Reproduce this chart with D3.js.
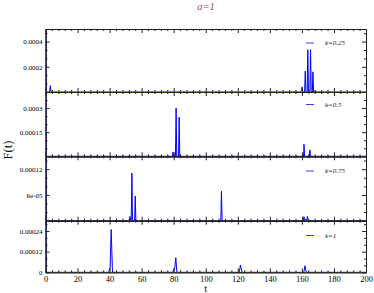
<!DOCTYPE html>
<html><head><meta charset="utf-8">
<script src="https://cdn.jsdelivr.net/npm/d3@7"></script>
<style>body{margin:0;background:#fff}svg{display:block}</style>
</head><body>
<script>
// ---- data ----
const seriesNames = ["k=0.25", "k=0.5", "k=0.75", "k=1"];
const t_k025 = [0, 0.6, 2.5, 3, 3.5, 159.2, 159.7, 160.1, 160.6, 161.1, 161.7, 162.1, 162.5, 163.3, 163.7, 164.1, 165.0, 165.4, 165.8, 166.5, 166.9, 167.3, 168.1, 168.5, 168.9, 200];
const F_k025 = [0.002, 0, 0, 0.00005, 0, 0, 0.00001, 0.00004, 0, 0, 0, 0.000166, 0, 0, 0.000336, 0, 0, 0.000336, 0, 0, 0.00016, 0, 0, 0.00001, 0, 0];
const t_k05 = [0, 0.6, 79.2, 79.6, 80.0, 81.1, 81.5, 81.9, 83.0, 83.4, 83.8, 160.5, 160.9, 161.1, 161.3, 161.7, 164.6, 165.0, 165.4, 200];
const F_k05 = [0.002, 0, 0, 0.000027, 0, 0, 0.0003, 0, 0, 0.000243, 0, 0, 0.00001, 0, 0.000075, 0, 0, 0.00004, 0, 0];
const t_k075 = [0, 0.6, 52.3, 52.7, 53.2, 53.5, 53.9, 54.3, 55.6, 56.0, 56.4, 109.4, 109.8, 110.2, 160.9, 161.3, 161.7, 162.2, 163.0, 163.4, 163.8, 200];
const F_k075 = [0.002, 0, 0, 0.00001, 0, 0, 0.000111, 0, 0, 0.0000577, 0, 0, 0.0000686, 0, 0, 0.0000093, 0, 0.000003, 0, 0.00001, 0, 0];
const t_k1 = [0, 0.6, 39.5, 40.0, 40.3, 41.0, 41.8, 79.5, 80.0, 80.6, 81.3, 82.0, 120.8, 121.3, 121.6, 122.2, 122.6, 161.2, 161.6, 161.9, 162.5, 163.0, 200];
const F_k1 = [0.002, 0, 0, 0.00002, 0.00002, 0.000249, 0, 0, 0.00002, 0.00002, 0.000085, 0, 0, 0.00002, 0.000042, 0.00002, 0, 0, 0.00002, 0.000038, 0.00001, 0, 0];
const seriesT = [t_k025, t_k05, t_k075, t_k1];
const seriesF = [F_k025, F_k05, F_k075, F_k1];
const yMax = [0.0005, 0.0004, 0.00015, 0.0003];
const yTickValues = [[0.0002, 0.0004], [0.00015, 0.0003], [0.00006, 0.00012], [0, 0.00012, 0.00024]];
const yTickLabels = [["0.0002", "0.0004"], ["0.00015", "0.0003"], ["6e-05", "0.00012"], ["0", "0.00012", "0.00024"]];
const yMinorStep = [0.0002 / 3, 0.00005, 0.00002, 0.00004];
const xTickValues = [0, 20, 40, 60, 80, 100, 120, 140, 160, 180, 200];
const xTickLabels = ["0", "20", "40", "60", "80", "100", "120", "140", "160", "180", "200"];

// ---- layout ----
const W = 374, H = 293;
const panelTop = [29, 92, 156.3, 220.7];
const panelBot = [92, 156.3, 220.7, 272.3];
const legendY = [43, 104.5, 171, 235.5];
const serif = "'Liberation Serif','Times New Roman',serif";

const svg = d3.select("body").append("svg").attr("width", W).attr("height", H);
const x = d3.scaleLinear().domain([0, 200]).range([45.5, 366]);
const xMinor = d3.range(0, 201, 4).filter(v => v % 20 !== 0);

svg.append("text").attr("x", 206).attr("y", 10).attr("text-anchor", "middle")
  .attr("font-family", serif).attr("font-style", "italic").attr("font-size", 10.5)
  .attr("fill", "#8e3f85").text("a=1");

seriesNames.forEach((name, i) => {
  const y = d3.scaleLinear().domain([0, yMax[i]]).range([panelBot[i], panelTop[i]]);
  const g = svg.append("g");
  const clipId = "clip" + i;
  svg.append("clipPath").attr("id", clipId).append("rect")
    .attr("x", x(0)).attr("y", panelTop[i]).attr("width", x(200) - x(0)).attr("height", panelBot[i] - panelTop[i]);

  // data line
  const pts = seriesT[i].map((t, j) => [t, seriesF[i][j]]);
  g.append("path").datum(pts).attr("clip-path", `url(#${clipId})`)
    .attr("fill", "none").attr("stroke", "#0000ff").attr("stroke-width", 1)
    .attr("d", d3.line().x(d => x(d[0])).y(d => y(d[1])));

  // axes (inward ticks)
  const axStyle = sel => { sel.selectAll("path.domain").attr("stroke", "#222"); sel.selectAll("line").attr("stroke", "#222"); sel.selectAll("text").attr("font-family", serif); };
  const yMinorVals = d3.range(0, yMax[i] + 1e-12, yMinorStep[i]).filter(v => v > 0 && v < yMax[i] && !yTickValues[i].some(m => Math.abs(m - v) < 1e-10));
  g.append("g").attr("transform", `translate(${x(0)},0)`)
    .call(d3.axisLeft(y).tickValues(yTickValues[i]).tickFormat((d, k) => yTickLabels[i][k]).tickSizeInner(-4).tickSizeOuter(0).tickPadding(3))
    .call(axStyle).call(s => s.selectAll("text").attr("font-size", 7));
  g.append("g").attr("transform", `translate(${x(0)},0)`)
    .call(d3.axisLeft(y).tickValues(yMinorVals).tickFormat("").tickSizeInner(-2).tickSizeOuter(0)).call(axStyle);
  g.append("g").attr("transform", `translate(${x(200)},0)`)
    .call(d3.axisRight(y).tickValues(yTickValues[i]).tickFormat("").tickSizeInner(-4).tickSizeOuter(0)).call(axStyle);
  g.append("g").attr("transform", `translate(${x(200)},0)`)
    .call(d3.axisRight(y).tickValues(yMinorVals).tickFormat("").tickSizeInner(-2).tickSizeOuter(0)).call(axStyle);
  const last = i === seriesNames.length - 1;
  g.append("g").attr("transform", `translate(0,${panelBot[i]})`)
    .call(d3.axisBottom(x).tickValues(xTickValues).tickFormat((d, k) => last ? xTickLabels[k] : "").tickSizeInner(-4).tickSizeOuter(0).tickPadding(3.5))
    .call(axStyle).call(s => s.selectAll("text").attr("font-size", 8.5));
  g.append("g").attr("transform", `translate(0,${panelBot[i]})`)
    .call(d3.axisBottom(x).tickValues(xMinor).tickFormat("").tickSizeInner(-2).tickSizeOuter(0)).call(axStyle);
  g.append("g").attr("transform", `translate(0,${panelTop[i]})`)
    .call(d3.axisTop(x).tickValues(xTickValues).tickFormat("").tickSizeInner(-4).tickSizeOuter(0)).call(axStyle);
  g.append("g").attr("transform", `translate(0,${panelTop[i]})`)
    .call(d3.axisTop(x).tickValues(xMinor).tickFormat("").tickSizeInner(-2).tickSizeOuter(0)).call(axStyle);

  // legend
  g.append("line").attr("x1", 306).attr("x2", 314).attr("y1", legendY[i]).attr("y2", legendY[i])
    .attr("stroke", "#3a3aff").attr("stroke-width", 1);
  g.append("text").attr("x", 325).attr("y", legendY[i] + 2.4).attr("font-family", serif)
    .attr("font-style", "italic").attr("font-size", 7).attr("fill", "#222").text(name);
});

svg.append("text").attr("x", 205.75).attr("y", 292.3).attr("text-anchor", "middle")
  .attr("font-family", serif).attr("font-size", 10.5).attr("fill", "#111").text("t");
svg.append("text").attr("transform", "translate(11.5,150) rotate(-90)").attr("text-anchor", "middle")
  .attr("font-family", serif).attr("font-size", 12.5).attr("fill", "#111").text("F(t)");
</script>
</body></html>
